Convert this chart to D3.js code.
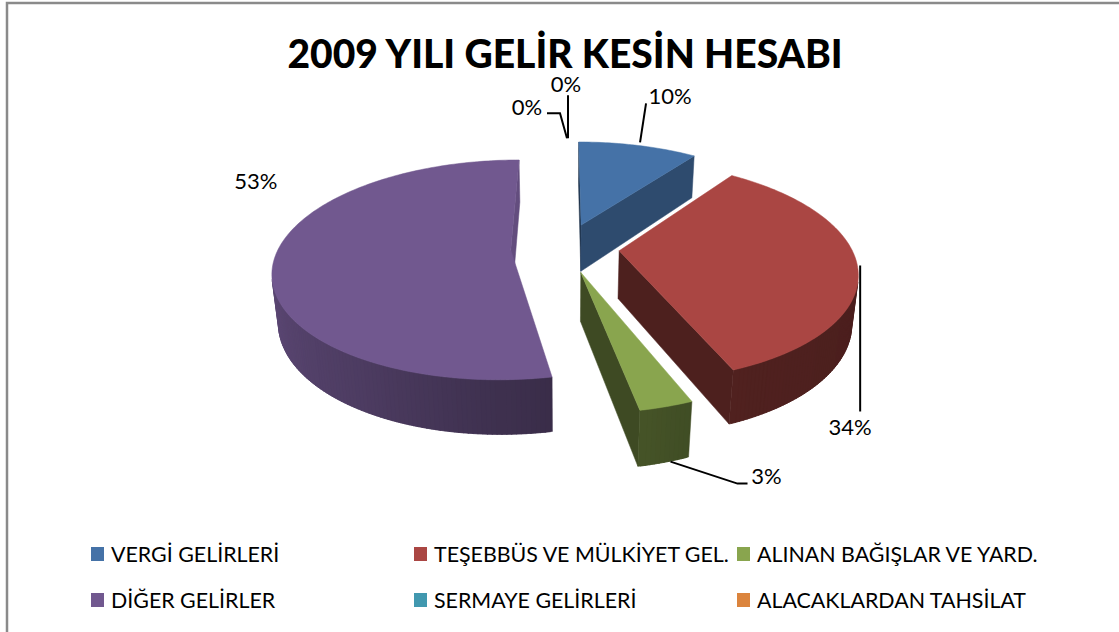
<!DOCTYPE html>
<html>
<head>
<meta charset="utf-8">
<script src="https://cdn.jsdelivr.net/npm/d3@7"></script>
<style>
html, body { margin: 0; padding: 0; background: #fff; }
svg { display: block; }
text { font-family: Lato, "Open Sans", sans-serif; fill: #000; }
</style>
</head>
<body>
<svg id="chart" width="1119" height="632"></svg>
<script>
const title = "2009 YILI GELİR KESİN HESABI";
const categories = ["VERGİ GELİRLERİ", "TEŞEBBÜS VE MÜLKİYET GEL.", "ALINAN BAĞIŞLAR VE YARD.",
                    "DİĞER GELİRLER", "SERMAYE GELİRLERİ", "ALACAKLARDAN TAHSİLAT"];
const values = [10, 34, 3, 53, 0, 0];
const colors = ["#4572A7", "#AA4643", "#89A54E", "#71588F", "#4198AF", "#DB843D"];

// where each label sits, relative to the outer rim middle of its slice
const labelLayout = [
    { leader: [[2, -3], [8, -42]], text: [32, -49] },
    { leader: [[3, 1], [3, 147]], text: [-7, 163] },
    { leader: [[4, 55], [71, 77], [81, 77]], text: [100, 69] },
    { leader: [], text: [-18, -79] },
    { leader: [[3, -3], [3, -46]], text: [1, -57] },
    { leader: [[2, -3], [-5, -28], [-18, -28]], text: [-38, -34] }
];

const svg = d3.select("#chart");

// frame
svg.append("rect")
    .attr("x", 7).attr("y", 3)
    .attr("width", 1200).attr("height", 700)
    .attr("fill", "#fff")
    .attr("stroke", "#8a8a8a")
    .attr("stroke-width", 2.5);

svg.append("text")
    .attr("x", 565).attr("y", 68)
    .attr("text-anchor", "middle")
    .attr("font-size", 39)
    .attr("font-weight", 900)
    .text(title);

// 3d projection of the pie disk: u to the right, v to the back, h up
const cx = 565, cy = 247.7, K = 232;
const tilt = 27.05 * Math.PI / 180, F = 4.95;
const depth = 0.235, explode = 0.234;
const sinT = Math.sin(tilt), cosT = Math.cos(tilt);

function project(u, v, h) {
    const yy = v * sinT + h * cosT;
    const d = v * cosT - h * sinT;
    const s = F / (F + d);
    return [cx + K * u * s, cy - K * yy * s, d];
}

const wallLight = d3.scaleLinear()
    .domain([90, 160, 180, 210, 260, 300])
    .range([0.43, 0.47, 0.55, 0.68, 0.83, 0.85])
    .clamp(true);
const cutLight = d3.scaleLinear()
    .domain([90, 126, 180, 248])
    .range([0.88, 0.66, 0.5, 0.45])
    .clamp(true);

function shade(c, f) {
    const r = d3.rgb(c);
    return d3.rgb(r.r * f, r.g * f, r.b * f).formatHex();
}
function norm(deg) { return ((deg % 360) + 360) % 360; }
function area(pts) {
    let s = 0;
    for (let i = 0; i < pts.length; i++) {
        const a = pts[i], b = pts[(i + 1) % pts.length];
        s += a[0] * b[1] - b[0] * a[1];
    }
    return s;
}
const pathOf = pts => "M" + pts.map(p => p[0].toFixed(2) + "," + p[1].toFixed(2)).join("L") + "Z";

const arcs = d3.pie().sort(null).value(d => d)(values);
const total = d3.sum(values);
const deg = 180 / Math.PI;

const sides = [], tops = [];
arcs.forEach((a, i) => {
    const span = a.endAngle - a.startAngle;
    if (span <= 0) return;
    const mid = (a.startAngle + a.endAngle) / 2;
    const ox = explode * Math.sin(mid), oy = explode * Math.cos(mid);
    const rim = (t, h) => project(ox + Math.sin(t), oy + Math.cos(t), h);
    const apex = h => project(ox, oy, h);
    const n = Math.max(2, Math.ceil(span / (Math.PI / 180)));
    const stepA = span / n;
    const ts = d3.range(n + 1).map(k => a.startAngle + stepA * k);

    tops.push({ pts: [apex(0), ...ts.map(t => rim(t, 0))], fill: colors[i] });

    for (let k = 0; k < n; k++) {
        const q = [rim(ts[k], 0), rim(ts[k + 1], 0), rim(ts[k + 1], -depth), rim(ts[k], -depth)];
        if (area(q) >= 0) continue;
        // stretch each strip a little over its neighbour to hide seams
        const t0 = Math.max(a.startAngle, ts[k] - stepA * 0.6);
        const t1 = Math.min(a.endAngle, ts[k + 1] + stepA * 0.6);
        const nd = norm((ts[k] + ts[k + 1]) / 2 * deg);
        sides.push({
            pts: [rim(t0, 0), rim(t1, 0), rim(t1, -depth), rim(t0, -depth)],
            z: d3.mean(q, p => p[2]),
            fill: shade(colors[i], wallLight(nd))
        });
    }
    const cuts = [
        { pts: [apex(0), rim(a.startAngle, 0), rim(a.startAngle, -depth), apex(-depth)], n: a.startAngle * deg - 90 },
        { pts: [rim(a.endAngle, 0), apex(0), apex(-depth), rim(a.endAngle, -depth)], n: a.endAngle * deg + 90 }
    ];
    cuts.forEach(c => {
        if (area(c.pts) >= 0) return;
        sides.push({ pts: c.pts, z: d3.mean(c.pts, p => p[2]), fill: shade(colors[i], cutLight(norm(c.n))) });
    });
});

sides.sort((a, b) => b.z - a.z);

const pieG = svg.append("g");
pieG.selectAll("path.side")
    .data(sides)
    .enter().append("path")
    .attr("class", "side")
    .attr("d", d => pathOf(d.pts))
    .attr("fill", d => d.fill)
    .attr("stroke", d => d.fill)
    .attr("stroke-width", 0.5)
    .attr("stroke-linejoin", "round");

pieG.selectAll("path.top")
    .data(tops)
    .enter().append("path")
    .attr("class", "top")
    .attr("d", d => pathOf(d.pts))
    .attr("fill", d => d.fill)
    .attr("stroke", d => d.fill)
    .attr("stroke-width", 0.5);

// labels
const labelG = svg.append("g");
arcs.forEach((a, i) => {
    const mid = (a.startAngle + a.endAngle) / 2;
    const r = 1 + explode;
    const [ax, ay] = project(r * Math.sin(mid), r * Math.cos(mid), 0);
    const L = labelLayout[i];
    if (L.leader.length) {
        labelG.append("polyline")
            .attr("points", L.leader.map(p => (ax + p[0]) + "," + (ay + p[1])).join(" "))
            .attr("fill", "none")
            .attr("stroke", "#000")
            .attr("stroke-width", 2);
    }
    labelG.append("text")
        .attr("x", ax + L.text[0])
        .attr("y", ay + L.text[1])
        .attr("dy", "0.36em")
        .attr("text-anchor", "middle")
        .attr("font-size", 22)
        .text(Math.round(values[i] / total * 100) + "%");
});

// legend, three columns and two rows
const colX = [91, 414, 737];
const rowY = [554, 600];
const legend = svg.append("g")
    .selectAll("g")
    .data(categories)
    .enter().append("g")
    .attr("transform", (d, i) => `translate(${colX[i % 3]},${rowY[Math.floor(i / 3)]})`);
legend.append("rect")
    .attr("x", 0).attr("y", -7)
    .attr("width", 13).attr("height", 14)
    .attr("fill", (d, i) => colors[i]);
legend.append("text")
    .attr("x", 20)
    .attr("dy", "0.36em")
    .attr("font-size", 21.4)
    .text(d => d);
</script>
</body>
</html>
